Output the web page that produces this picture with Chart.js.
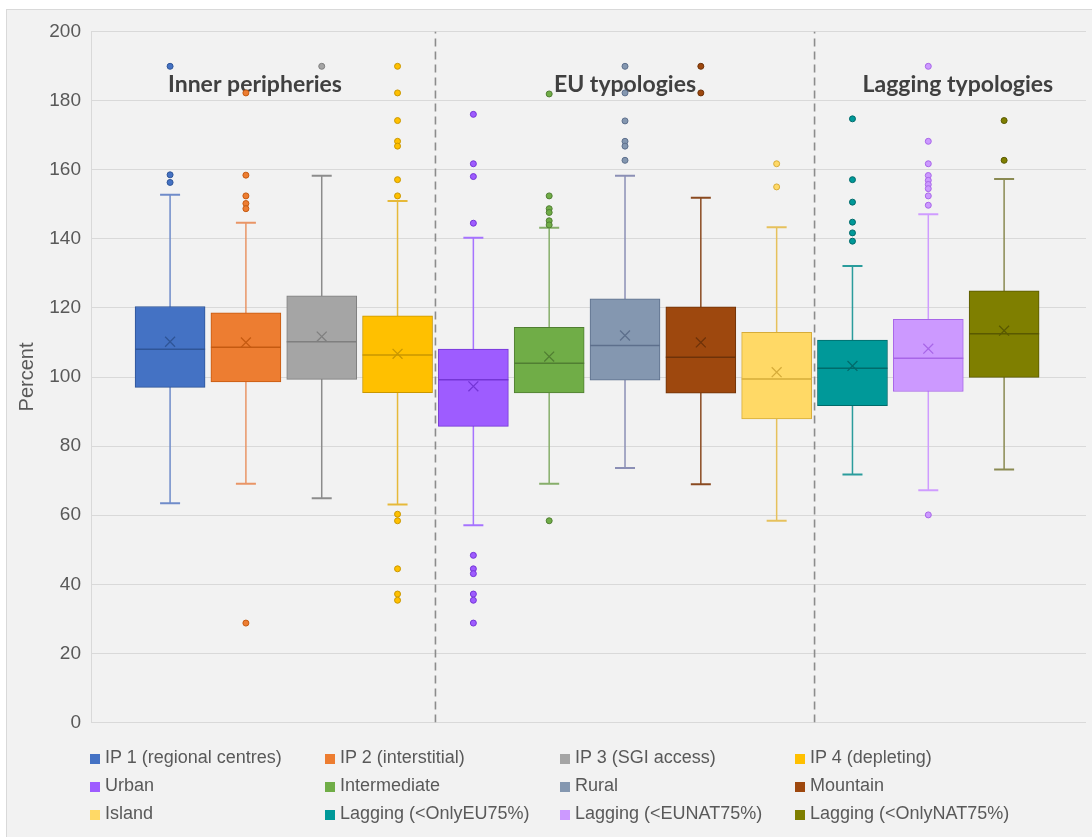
<!DOCTYPE html>
<html>
<head>
<meta charset="utf-8">
<title>Box plots by typology</title>
<script src="https://cdn.jsdelivr.net/npm/chart.js@4.4.0/dist/chart.umd.min.js"></script>
<style>
  body { margin: 0; background: #fff; width: 1092px; height: 837px; overflow: hidden; font-family: "Liberation Sans", Arial, sans-serif; }
  #frame { position: absolute; left: 6px; top: 9px; width: 1090px; height: 832px; background: #f2f2f2; border: 1px solid #d9d9d9; }
  #chart { position: absolute; left: 0; top: 0; }
  #legend { position: absolute; left: 83px; top: 733px; display: grid; grid-template-columns: repeat(4, 235px); }
  #legend .item { height: 28px; line-height: 28px; font-size: 18px; color: #595959; white-space: nowrap; }
  #legend .swatch { display: inline-block; width: 10px; height: 10px; margin-right: 5px; vertical-align: -1px; }
</style>
</head>
<body>
<div id="frame">
  <canvas id="chart" width="1085" height="734"></canvas>
  <div id="legend"></div>
</div>
<script>
// series in legend order
const names = ['IP 1 (regional centres)', 'IP 2 (interstitial)', 'IP 3 (SGI access)', 'IP 4 (depleting)',
               'Urban', 'Intermediate', 'Rural', 'Mountain',
               'Island', 'Lagging (<OnlyEU75%)', 'Lagging (<EUNAT75%)', 'Lagging (<OnlyNAT75%)'];

// box statistics, percent
const q1          = [97.0, 98.6, 99.3, 95.5, 85.7, 95.4, 99.1, 95.3, 87.9, 91.7, 95.8, 99.9];
const median      = [108.0, 108.6, 110.2, 106.4, 99.2, 104.0, 109.1, 105.7, 99.4, 102.5, 105.4, 112.5];
const q3          = [120.4, 118.6, 123.5, 117.7, 108.1, 114.4, 122.6, 120.3, 112.9, 110.7, 116.7, 124.9];
const mean        = [110.2, 110.0, 111.7, 106.7, 97.3, 105.9, 112.0, 110.0, 101.4, 103.2, 108.2, 113.4];
const whiskerLow  = [63.5, 69.1, 64.9, 63.1, 57.1, 69.1, 73.7, 69.0, 58.4, 71.8, 67.2, 73.2];
const whiskerHigh = [152.7, 144.6, 158.2, 150.9, 140.3, 143.2, 158.2, 151.9, 143.3, 132.1, 147.1, 157.3];

const outliers = [
  [189.9, 158.5, 156.3],
  [182.2, 158.4, 152.4, 150.2, 148.7, 28.8],
  [189.9],
  [189.9, 182.2, 174.2, 168.2, 166.8, 157.1, 152.4, 60.3, 58.4, 44.5, 37.2, 35.4],
  [176.0, 161.7, 158.0, 144.5, 48.4, 44.5, 43.1, 37.2, 35.4, 28.8],
  [181.9, 152.4, 148.7, 147.6, 145.2, 144.0, 58.4],
  [189.9, 182.2, 174.1, 168.2, 166.8, 162.7],
  [189.9, 182.2],
  [161.7, 155.0],
  [174.7, 157.1, 150.6, 144.8, 141.7, 139.3],
  [189.9, 168.2, 161.7, 158.3, 156.9, 155.7, 154.5, 152.4, 149.7, 60.1],
  [174.2, 162.7]
];

// group headings and the boundaries between groups
const groupNames = ['Inner peripheries', 'EU typologies', 'Lagging typologies'];
const groupBreaks = [3.5, 8.5];

const colors  = ['#4472c4', '#ed7d31', '#a5a5a5', '#ffc000', '#9e5cff', '#70ad47',
                 '#8497b0', '#9e480e', '#ffd966', '#009999', '#cc99ff', '#7f7f00'];
const darker  = ['#2f5597', '#c55a11', '#7f7f7f', '#c99700', '#7435d6', '#507e32',
                 '#5d6f8c', '#6e3209', '#d6ac3a', '#006b6b', '#a866e8', '#595900'];
const whisker = ['#6f8bc9', '#e99566', '#8c8c8c', '#e6b93a', '#a673ff', '#86ae6a',
                 '#8b8fb5', '#8a4a20', '#e6c15c', '#2a9c9c', '#cf9cff', '#8a8a52'];

const datasets = [];

groupBreaks.forEach(b => {
  datasets.push({
    type: 'line', data: [{x: b, y: 0}, {x: b, y: 200}],
    borderColor: '#8c8c8c', borderWidth: 1.6, borderDash: [8, 5], pointRadius: 0, order: 5
  });
});

names.forEach((name, i) => {
  // box from q1 to q3
  datasets.push({
    type: 'bar', label: name, data: [{x: i, y: [q1[i], q3[i]]}],
    backgroundColor: colors[i], borderColor: darker[i], borderWidth: 1,
    borderSkipped: false, barThickness: 70, grouped: false, order: 2
  });
  // whisker line
  datasets.push({
    type: 'line', data: [{x: i, y: whiskerLow[i]}, {x: i, y: whiskerHigh[i]}],
    borderColor: whisker[i], borderWidth: 1.5, pointRadius: 0, order: 3
  });
  // whisker caps
  datasets.push({
    type: 'scatter', data: [{x: i, y: whiskerLow[i]}, {x: i, y: whiskerHigh[i]}],
    pointStyle: 'line', pointRadius: 10, pointHoverRadius: 10,
    borderColor: whisker[i], backgroundColor: whisker[i], pointBorderWidth: 2, order: 1
  });
  // median
  datasets.push({
    type: 'scatter', data: [{x: i, y: median[i]}],
    pointStyle: 'line', pointRadius: 35, pointHoverRadius: 35,
    borderColor: darker[i], backgroundColor: darker[i], pointBorderWidth: 1.5, order: 1
  });
  // mean marker
  datasets.push({
    type: 'scatter', data: [{x: i, y: mean[i]}],
    pointStyle: 'crossRot', pointRadius: 7, pointHoverRadius: 7,
    borderColor: darker[i], backgroundColor: darker[i], pointBorderWidth: 1.3, order: 0
  });
  // outlying points
  datasets.push({
    type: 'scatter', data: outliers[i].map(v => ({x: i, y: v})),
    pointRadius: 3, pointHoverRadius: 3,
    backgroundColor: colors[i], borderColor: darker[i], pointBorderWidth: 1, order: 0
  });
});

const groupTitles = {
  id: 'groupTitles',
  beforeDatasetsDraw(chart, args, opts) {
    const {ctx, scales: {x, y}} = chart;
    ctx.save();
    ctx.font = opts.font;
    ctx.fillStyle = opts.color;
    ctx.textAlign = 'center';
    ctx.textBaseline = 'middle';
    groupNames.forEach((t, i) => {
      ctx.fillText(t, x.getPixelForValue(opts.at[i]), y.getPixelForValue(opts.y));
    });
    ctx.restore();
  }
};

const chart = new Chart(document.getElementById('chart'), {
  type: 'scatter',
  data: { datasets },
  plugins: [groupTitles],
  options: {
    responsive: false,
    animation: false,
    events: [],
    layout: { autoPadding: false, padding: { top: 19, right: 6, bottom: 14, left: 0 } },
    scales: {
      x: { type: 'linear', min: -1.043, max: 12.08, offset: false, display: false },
      y: {
        min: 0, max: 200,
        ticks: { stepSize: 20, padding: 10, color: '#595959', font: { family: 'Liberation Sans', size: 19 } },
        grid: { color: '#d9d9d9', drawTicks: false },
        border: { display: true, color: '#d9d9d9' },
        title: { display: true, text: 'Percent', color: '#595959', padding: { top: 8, bottom: 0 },
                 font: { family: 'Liberation Sans', size: 20 } },
        afterFit(scale) { scale.width = 84; }
      }
    },
    plugins: {
      legend: { display: false },
      tooltip: { enabled: false },
      groupTitles: { font: 'bold 23px Lato', color: '#404040', at: [1.12, 6.0, 10.39], y: 184.7 }
    }
  }
});

// legend in four aligned columns, built from the box datasets
const legendEl = document.getElementById('legend');
chart.data.datasets.filter(d => d.type === 'bar').forEach(d => {
  const item = document.createElement('div');
  item.className = 'item';
  const sw = document.createElement('span');
  sw.className = 'swatch';
  sw.style.background = d.backgroundColor;
  item.appendChild(sw);
  item.appendChild(document.createTextNode(d.label));
  legendEl.appendChild(item);
});
</script>
</body>
</html>
